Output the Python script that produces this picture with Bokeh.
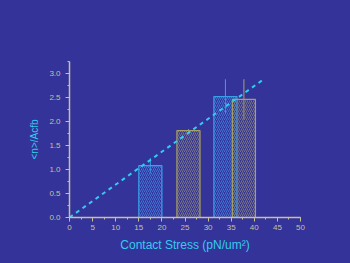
from bokeh.plotting import figure
from bokeh.models import ColumnDataSource, Whisker, Range1d, SingleIntervalTicker, NumeralTickFormatter
from bokeh.embed import file_html
from bokeh.resources import INLINE

# data
blue_x = [17.5, 33.75]
blue_y = [1.08, 2.52]
blue_err = [0.16, 0.36]
yellow_x = [25.75, 37.75]
yellow_y = [1.81, 2.46]
yellow_err = [0.03, 0.42]
bar_width = 5.0
fit_x = [0, 42]
fit_slope = 0.0685

BG = "#333399"
AX = "#c8c09a"
CY = "#33ccee"

p = figure(width=350, height=263, output_backend="svg", toolbar_location=None,
           x_range=Range1d(0, 50), y_range=Range1d(0, 3.25),
           min_border_left=69, min_border_right=50, min_border_top=61, min_border_bottom=46,
           background_fill_color=None, border_fill_color=None, outline_line_color=None)
p.styles = {"background-color": BG}
p.grid.visible = False

bs = ColumnDataSource(dict(x=blue_x, y=blue_y, lo=[a - b for a, b in zip(blue_y, blue_err)],
                           hi=[a + b for a, b in zip(blue_y, blue_err)]))
ys = ColumnDataSource(dict(x=yellow_x, y=yellow_y, lo=[a - b for a, b in zip(yellow_y, yellow_err)],
                           hi=[a + b for a, b in zip(yellow_y, yellow_err)]))

p.vbar(x="x", top="y", bottom=0, width=bar_width, source=bs, fill_alpha=0,
       line_color="#3aa0e8", line_width=1.2, hatch_pattern="/", hatch_color="#3a7ee0",
       hatch_scale=4, hatch_weight=0.9)
p.vbar(x="x", top="y", bottom=0, width=bar_width, source=ys, fill_alpha=0,
       line_color="#a8a060", line_width=1.2, hatch_pattern="/", hatch_color="#857f68",
       hatch_scale=4, hatch_weight=0.9)

p.add_layout(Whisker(source=bs, base="x", lower="lo", upper="hi", line_color="#3aa0e8",
                     upper_head=None, lower_head=None, line_width=1))
p.add_layout(Whisker(source=ys, base="x", lower="lo", upper="hi", line_color="#a8a060",
                     upper_head=None, lower_head=None, line_width=1))

p.line(fit_x, [fit_slope * v for v in fit_x], line_color=CY, line_width=2, line_dash="4 4")

p.xaxis.ticker = SingleIntervalTicker(interval=5, num_minor_ticks=2)
p.yaxis.ticker = SingleIntervalTicker(interval=0.5, num_minor_ticks=2)
p.yaxis.formatter = NumeralTickFormatter(format="0.0")
for ax in (p.xaxis, p.yaxis):
    ax.axis_line_color = AX
    ax.axis_line_width = 1.5
    ax.major_tick_line_color = AX
    ax.minor_tick_line_color = AX
    ax.major_tick_out = 4
    ax.major_tick_in = 0
    ax.minor_tick_out = 2
    ax.minor_tick_in = 0
    ax.major_label_text_color = AX
    ax.major_label_text_font = "Liberation Sans"
    ax.major_label_text_font_size = "8px"
    ax.axis_label_text_color = CY
    ax.axis_label_text_font = "Liberation Sans"
    ax.axis_label_text_font_style = "normal"
p.xaxis.axis_label = "Contact Stress (pN/um²)"
p.xaxis.axis_label_text_font_size = "12px"
p.xaxis.axis_label_standoff = 5
p.yaxis.axis_label = "<n>/Acfb"
p.yaxis.axis_label_text_font_size = "10px"
p.yaxis.axis_label_standoff = 6
p.xaxis.major_label_standoff = 3
p.yaxis.major_label_standoff = 5

open("out.html", "w").write(file_html(p, INLINE))
